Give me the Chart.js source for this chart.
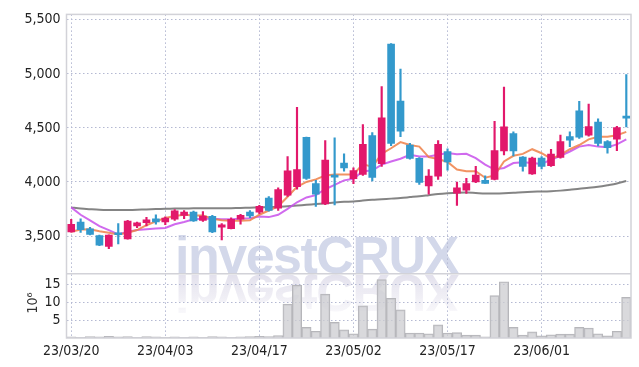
<!DOCTYPE html>
<html>
<head>
<meta charset="utf-8">
<script src="https://cdn.jsdelivr.net/npm/chart.js@4.4.1/dist/chart.umd.min.js"></script>
<style>
  html, body { margin: 0; padding: 0; background: #fff; }
</style>
</head>
<body>
<canvas id="chart" width="639" height="367"></canvas>
<script>
// trading days, yy/mm/dd
const dates = [
  "23/03/20", "23/03/21", "23/03/22", "23/03/23", "23/03/24", "23/03/27", "23/03/28", "23/03/29", "23/03/30", "23/03/31",
  "23/04/03", "23/04/04", "23/04/05", "23/04/06", "23/04/07", "23/04/10", "23/04/11", "23/04/12", "23/04/13", "23/04/14",
  "23/04/17", "23/04/18", "23/04/19", "23/04/20", "23/04/21", "23/04/24", "23/04/25", "23/04/26", "23/04/27", "23/04/28",
  "23/05/02", "23/05/03", "23/05/04", "23/05/08", "23/05/09", "23/05/10", "23/05/11", "23/05/12", "23/05/15", "23/05/16",
  "23/05/17", "23/05/18", "23/05/19", "23/05/22", "23/05/23", "23/05/24", "23/05/25", "23/05/26", "23/05/30", "23/05/31",
  "23/06/01", "23/06/02", "23/06/05", "23/06/07", "23/06/08", "23/06/09", "23/06/12", "23/06/13", "23/06/14", "23/06/15"
];

const opens = [
  3539, 3630, 3566, 3505, 3405, 3518, 3473, 3594, 3624, 3660,
  3630, 3655, 3691, 3721, 3645, 3682, 3582, 3569, 3655, 3721,
  3721, 3851, 3757, 3878, 3957, 4412, 3985, 3796, 4060, 4175,
  4030, 4069, 4430, 4169, 5275, 4748, 4342, 4218, 3964, 4054,
  4282, 3896, 3924, 4000, 4015, 4024, 4287, 4448, 4230, 4075,
  4221, 4151, 4227, 4421, 4657, 4433, 4555, 4373, 4396, 4600
];
const highs = [
  3655, 3660, 3580, 3509, 3512, 3615, 3645, 3630, 3673, 3696,
  3678, 3745, 3736, 3730, 3727, 3691, 3615, 3669, 3700, 3736,
  3785, 3864, 3945, 4236, 4691, 4415, 4015, 4382, 4409, 4260,
  4130, 4530, 4457, 4882, 5280, 5045, 4357, 4225, 4115, 4382,
  4306, 4000, 4033, 4145, 4057, 4560, 4878, 4463, 4235, 4230,
  4236, 4303, 4433, 4463, 4745, 4721, 4584, 4382, 4515, 4993
];
const lows = [
  3535, 3533, 3510, 3412, 3382, 3427, 3470, 3578, 3594, 3609,
  3605, 3645, 3660, 3636, 3636, 3530, 3464, 3565, 3609, 3669,
  3706, 3730, 3736, 3866, 3933, 4024, 3775, 3790, 3787, 4100,
  3985, 4060, 4009, 4145, 4336, 4418, 4210, 3978, 3887, 4024,
  4109, 3782, 3894, 3994, 3987, 4018, 4251, 4242, 4100, 4069,
  4121, 4145, 4221, 4327, 4403, 4424, 4333, 4266, 4290, 4509
];
const closes = [
  3609, 3560, 3515, 3415, 3509, 3512, 3639, 3621, 3651, 3630,
  3666, 3733, 3721, 3639, 3685, 3539, 3603, 3655, 3691, 3685,
  3775, 3736, 3930, 4103, 4115, 4033, 3887, 4203, 4045, 4130,
  4105, 4348, 4042, 4594, 4357, 4469, 4218, 3996, 4054, 4348,
  4185, 3945, 3985, 4063, 3987, 4290, 4509, 4287, 4145, 4221,
  4145, 4257, 4373, 4387, 4415, 4512, 4357, 4318, 4503, 4590
];

// moving averages as drawn
const ma5 = [
  3540, 3560, 3563, 3545, 3530, 3515, 3530, 3555, 3600, 3636,
  3666, 3685, 3697, 3691, 3691, 3660, 3645, 3642, 3642, 3645,
  3697, 3736, 3775, 3864, 3955, 4000, 4024, 4060, 4069, 4069,
  4069, 4166, 4139, 4260, 4312, 4369, 4342, 4327, 4230, 4212,
  4185, 4115, 4100, 4100, 4039, 4060, 4190, 4242, 4260, 4303,
  4266, 4215, 4251, 4303, 4342, 4394, 4418, 4418, 4433, 4463
];
const ma20 = [
  3765, 3697, 3645, 3591, 3555, 3515, 3539, 3555, 3563, 3569,
  3575, 3609, 3630, 3655, 3660, 3660, 3655, 3655, 3660, 3665,
  3680, 3675, 3697, 3751, 3812, 3857, 3878, 3933, 3973, 4015,
  4030, 4100, 4106, 4160, 4190, 4215, 4251, 4236, 4236, 4251,
  4268, 4257, 4260, 4221, 4160, 4115, 4130, 4175, 4182, 4175,
  4166, 4206, 4242, 4282, 4327, 4342, 4327, 4321, 4348, 4394
];
const ma60 = [
  3765, 3755, 3748, 3742, 3740, 3740, 3741, 3743, 3746, 3749,
  3752, 3754, 3755, 3756, 3756, 3756, 3757, 3758, 3760, 3762,
  3765, 3768, 3771, 3775, 3782, 3789, 3796, 3803, 3810, 3816,
  3820, 3828, 3835, 3840, 3846, 3852, 3860, 3868, 3878, 3888,
  3895, 3900, 3902, 3898, 3894, 3894, 3896, 3900, 3906, 3910,
  3912, 3915, 3920, 3928, 3938, 3946, 3956, 3970, 3986, 4009
];

// volume in millions
const volumes = [
  0.3, 0.2, 0.4, 0.3, 0.5, 0.3, 0.4, 0.2, 0.4, 0.3,
  0.2, 0.3, 0.2, 0.3, 0.2, 0.4, 0.3, 0.2, 0.3, 0.4,
  0.5, 0.4, 0.7, 9.5, 14.8, 3.0, 1.9, 12.3, 4.4, 2.3,
  1.2, 9.0, 2.5, 16.4, 11.1, 7.9, 1.4, 1.4, 1.2, 3.7,
  1.4, 1.5, 0.8, 0.8, 0.3, 11.9, 15.8, 3.0, 0.8, 1.7,
  0.6, 0.9, 1.1, 1.1, 3.0, 2.8, 1.2, 0.6, 1.9, 11.4
];

const priceTicks = [3500, 4000, 4500, 5000, 5500];
const volumeTicks = [5, 10, 15];

const RED = "#e2186b";
const BLUE = "#3399cc";
const GRID = "#b4b9d2";
const DASH = [1.5, 2.5];
const FONT = { family: "'Liberation Sans Narrow', 'DejaVu Sans Condensed', sans-serif", size: 14 };

function candleColor(ctx) {
  const i = ctx.dataIndex;
  return closes[i] >= opens[i] ? RED : BLUE;
}

const decor = {
  id: "decor",
  beforeDraw(chart) {
    const { ctx, scales } = chart;
    const base = scales.y.bottom;
    ctx.save();
    ctx.font = "bold 52px 'Liberation Sans', Arial, sans-serif";
    ctx.letterSpacing = "-1.5px";
    ctx.fillStyle = "#d3d8ea";
    ctx.fillText("investCRUX", 175, base - 1);
    ctx.translate(0, 2 * base);
    ctx.scale(1, -1);
    const g = ctx.createLinearGradient(0, base, 0, base - 42);
    g.addColorStop(0, "rgba(226,224,236,1)");
    g.addColorStop(1, "rgba(232,230,240,0.25)");
    ctx.fillStyle = g;
    ctx.fillText("investCRUX", 175, base - 1);
    ctx.restore();
  },
  afterDraw(chart) {
    const { ctx, chartArea: a, scales } = chart;
    ctx.save();
    ctx.strokeStyle = "#d2d2d8";
    ctx.lineWidth = 1.5;
    ctx.strokeRect(a.left, a.top, a.right - a.left, a.bottom - a.top);
    ctx.beginPath();
    ctx.moveTo(a.left, scales.y.bottom);
    ctx.lineTo(a.right, scales.y.bottom);
    ctx.stroke();

    ctx.translate(33, (scales.v.top + scales.v.bottom) / 2 - 3);
    ctx.rotate(-Math.PI / 2);
    ctx.font = "14px " + FONT.family;
    ctx.fillStyle = "#333";
    ctx.textAlign = "center";
    ctx.textBaseline = "middle";
    ctx.fillText("10\u2076", 0, 0);
    ctx.restore();
  }
};

new Chart(document.getElementById("chart"), {
  type: "bar",
  data: {
    labels: dates,
    datasets: [
      {
        label: "body",
        data: dates.map((_, i) => [opens[i], closes[i]]),
        backgroundColor: candleColor,
        barThickness: 7,
        minBarLength: 2,
        grouped: false,
        yAxisID: "y",
        order: 0
      },
      {
        label: "wick",
        data: dates.map((_, i) => [lows[i], highs[i]]),
        backgroundColor: candleColor,
        barThickness: 1.5,
        grouped: false,
        yAxisID: "y",
        order: 1
      },
      {
        type: "line",
        label: "MA5",
        data: ma5,
        borderColor: "rgba(239,128,72,0.85)",
        borderWidth: 2,
        pointRadius: 0,
        yAxisID: "y",
        order: 2
      },
      {
        type: "line",
        label: "MA20",
        data: ma20,
        borderColor: "rgba(200,80,235,0.85)",
        borderWidth: 2,
        pointRadius: 0,
        yAxisID: "y",
        order: 3
      },
      {
        type: "line",
        label: "MA60",
        data: ma60,
        borderColor: "rgba(110,110,110,0.85)",
        borderWidth: 2,
        pointRadius: 0,
        tension: 0.3,
        yAxisID: "y",
        order: 4
      },
      {
        label: "volume",
        data: volumes,
        backgroundColor: "rgba(204,204,208,0.75)",
        borderColor: "#b6b6ba",
        borderWidth: 1,
        barPercentage: 1,
        categoryPercentage: 1,
        grouped: false,
        yAxisID: "v",
        order: 5
      }
    ]
  },
  options: {
    responsive: false,
    animation: false,
    layout: { padding: { top: 10, right: 8, left: 0, bottom: 0 } },
    plugins: { legend: { display: false }, tooltip: { enabled: false } },
    scales: {
      x: {
        grid: {
          color: (c) => (c.index % 10 === 0 ? GRID : "transparent"),
          offset: false,
          drawTicks: false
        },
        border: { display: false, dash: DASH },
        ticks: {
          autoSkip: false,
          maxRotation: 0,
          padding: 5,
          color: "#222",
          font: FONT,
          callback: (v, i) => (i % 10 === 0 ? dates[i] : "")
        },
        afterFit: (s) => { s.height = 29; }
      },
      // left-side stacked axes are laid out last-defined on top
      v: {
        position: "left",
        stack: "panes",
        stackWeight: 65,
        min: 0,
        max: 18,
        afterBuildTicks: (s) => { s.ticks = volumeTicks.map((value) => ({ value })); },
        grid: { color: GRID, drawTicks: false },
        border: { display: false, dash: DASH },
        ticks: { autoSkip: false, padding: 6, color: "#222", font: FONT },
        afterFit: (s) => { s.width = 66.5; }
      },
      y: {
        position: "left",
        stack: "panes",
        stackWeight: 263,
        min: 3150,
        max: 5550,
        afterBuildTicks: (s) => { s.ticks = priceTicks.map((value) => ({ value })); },
        grid: { color: GRID, drawTicks: false },
        border: { display: false, dash: DASH },
        ticks: {
          autoSkip: false,
          padding: 6,
          color: "#222",
          font: FONT,
          callback: (v) => v.toLocaleString("en-US")
        },
        afterFit: (s) => { s.width = 66.5; }
      }
    }
  },
  plugins: [decor]
});
</script>
</body>
</html>
